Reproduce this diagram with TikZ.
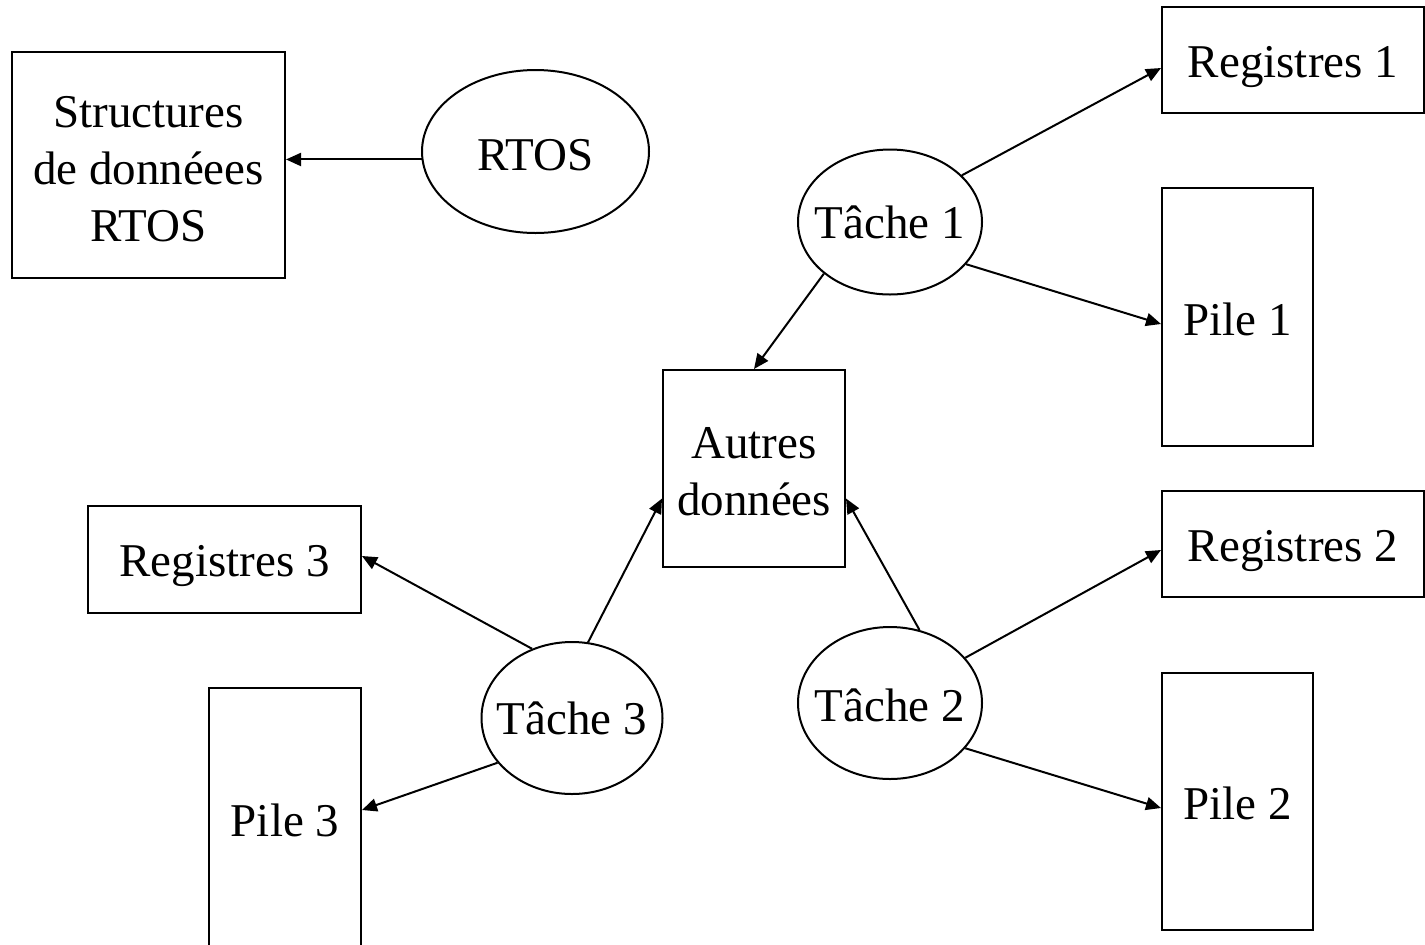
\documentclass[tikz,border=0pt]{standalone}
\usepackage{fontspec}
\setmainfont{Liberation Serif}
\usetikzlibrary{arrows.meta,shapes.geometric}

\begin{document}
\begin{tikzpicture}[x=0.5pt,y=-0.5pt,
  lbl/.style={font=\fontsize{23.5}{28.5}\selectfont, align=center, inner sep=0pt},
  box/.style={draw, line width=1pt, rectangle, inner sep=0pt},
  task/.style={draw, line width=1pt, ellipse, inner sep=0pt},
  arr/.style={line width=1pt, -{Triangle[length=7.5pt,width=6.5pt]}}]
  \useasboundingbox (0,0) rectangle (1425,944);

  % data structures
  \node[box, minimum width=136.5pt, minimum height=113pt,
        label={[lbl,yshift=-2pt]center:Structures\\de donnéees\\RTOS}] (sd) at (148.5,165) {};
  \node[task, minimum width=113.5pt, minimum height=81.5pt,
        label={[lbl,yshift=-2pt]center:RTOS}] (rtos) at (535.5,151.5) {};

  % task 1 with its registers and stack
  \node[box, minimum width=131pt, minimum height=53pt,
        label={[lbl,yshift=-3.5pt]center:Registres 1}] (r1) at (1293,60) {};
  \node[task, minimum width=92pt, minimum height=72.5pt,
        label={[lbl]center:Tâche 1}] (t1) at (890,222) {};
  \node[box, minimum width=75.5pt, minimum height=129pt,
        label={[lbl,yshift=-1pt]center:Pile 1}] (p1) at (1237.5,317) {};

  % shared data
  \node[box, minimum width=91pt, minimum height=98.5pt,
        label={[lbl,yshift=-1.5pt]center:Autres\\données}] (ad) at (754,468.5) {};

  % task 2
  \node[box, minimum width=131pt, minimum height=53pt,
        label={[lbl,yshift=-3.5pt]center:Registres 2}] (r2) at (1293,544) {};
  \node[task, minimum width=92pt, minimum height=76pt,
        label={[lbl,yshift=-1pt]center:Tâche 2}] (t2) at (890,703) {};
  \node[box, minimum width=75.5pt, minimum height=128.5pt,
        label={[lbl,yshift=-1pt]center:Pile 2}] (p2) at (1237.5,801.5) {};

  % task 3
  \node[box, minimum width=136.5pt, minimum height=53.5pt,
        label={[lbl,yshift=-3pt]center:Registres 3}] (r3) at (224.5,559.5) {};
  \node[task, minimum width=90.5pt, minimum height=76pt,
        label={[lbl]center:Tâche 3}] (t3) at (572,718) {};
  \node[box, minimum width=76pt, minimum height=132pt,
        label={[lbl]center:Pile 3}] (p3) at (285,820) {};

  % connectors
  \draw[arr] (rtos.184) -- (sd.east |- rtos.184);
  \draw[arr] (t1.33) -- ([yshift=-4pt]r1.west);
  \draw[arr] (t1.-29) -- ([yshift=-3.5pt]p1.west);
  \draw[arr] (t1.218) -- (ad.north);
  \draw[arr] (t3.78) -- ([yshift=-15pt]ad.west);
  \draw[arr] (t2.68) -- ([yshift=-15pt]ad.east);
  \draw[arr] (t2.31) -- ([yshift=-3pt]r2.west);
  \draw[arr] (t2.-31) -- ([yshift=-3.25pt]p2.west);
  \draw[arr] (t3.120) -- ([yshift=1.75pt]r3.east);
  \draw[arr] (t3.211) -- ([yshift=5pt]p3.east);
\end{tikzpicture}
\end{document}
